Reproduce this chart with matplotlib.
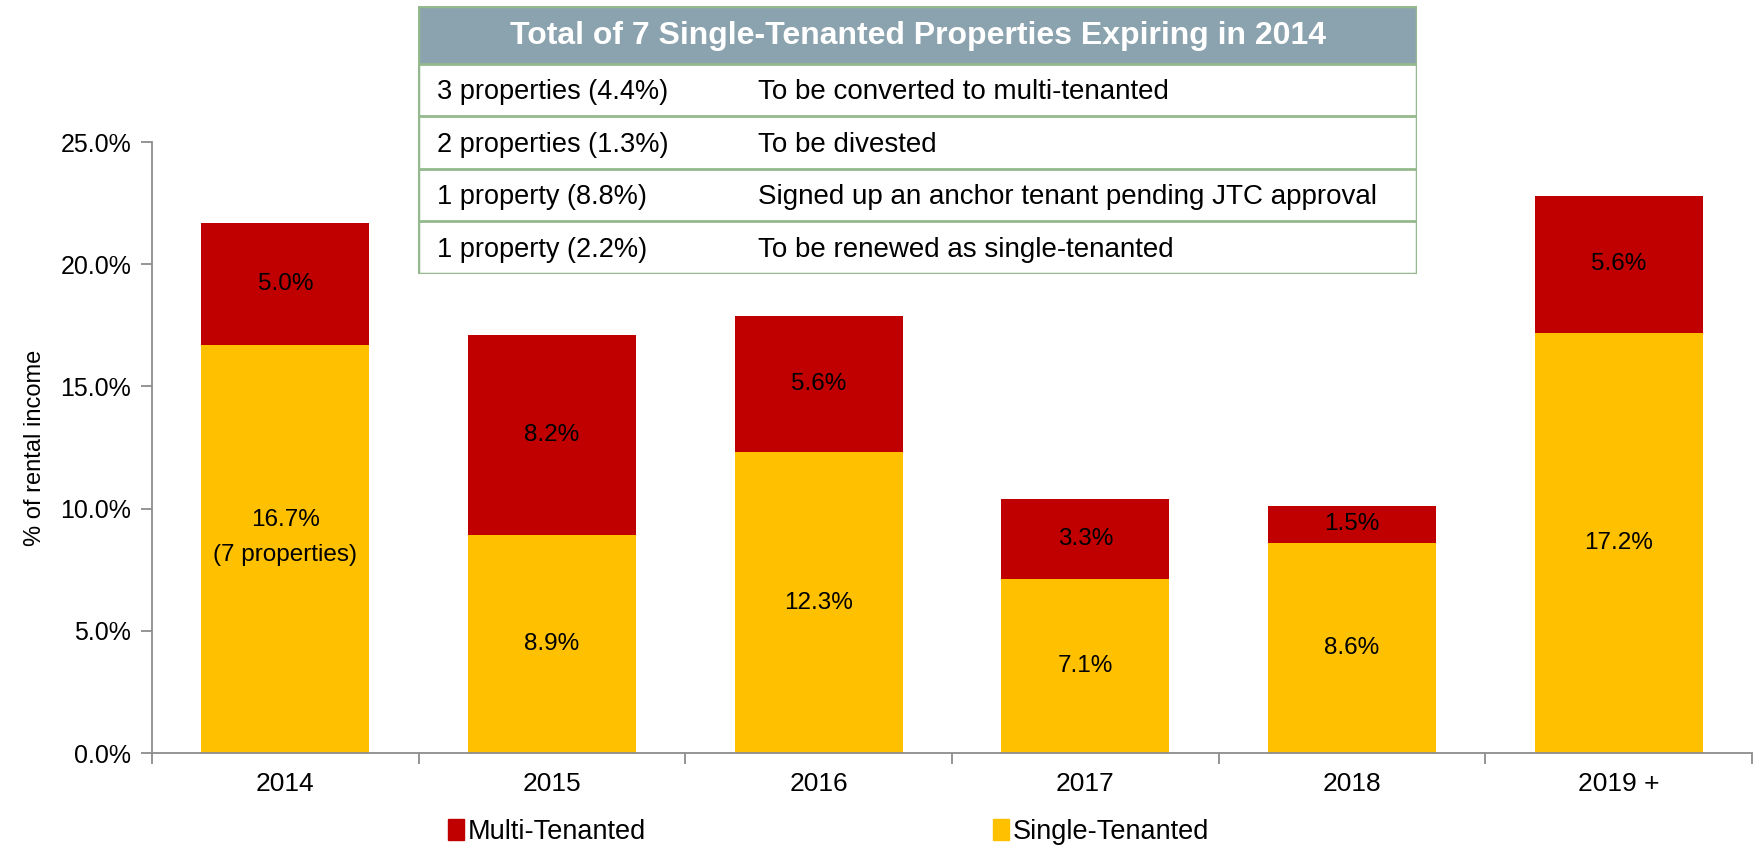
import matplotlib.pyplot as plt
from matplotlib import font_manager
from matplotlib.patches import Rectangle, Patch

years = ['2014', '2015', '2016', '2017', '2018', '2019 +']
single = [16.7, 8.9, 12.3, 7.1, 8.6, 17.2]
multi = [5.0, 8.2, 5.6, 3.3, 1.5, 5.6]
single_labels = ['16.7%\n(7 properties)', '8.9%', '12.3%', '7.1%', '8.6%', '17.2%']
multi_labels = ['5.0%', '8.2%', '5.6%', '3.3%', '1.5%', '5.6%']

table_title = 'Total of 7 Single-Tenanted Properties Expiring in 2014'
table_left = ['3 properties (4.4%)', '2 properties (1.3%)', '1 property (8.8%)', '1 property (2.2%)']
table_right = ['To be converted to multi-tenanted', 'To be divested',
               'Signed up an anchor tenant pending JTC approval', 'To be renewed as single-tenanted']

RED = '#C00000'
YELLOW = '#FFC000'
GRAY = '#8C8C8C'

names = {f.name for f in font_manager.fontManager.ttflist}
plt.rcParams['font.family'] = ['Liberation Sans', 'DejaVu Sans']
narrow = 'Liberation Sans Narrow' if 'Liberation Sans Narrow' in names else 'Liberation Sans'

fig = plt.figure(figsize=(17.56, 8.46), dpi=100)
ax = fig.add_axes([152 / 1756, 1 - 753 / 846, 1600 / 1756, 611 / 846])

x = range(len(years))
ax.bar(x, single, width=0.63, color=YELLOW, zorder=2)
ax.bar(x, multi, width=0.63, bottom=single, color=RED, zorder=2)

for i in x:
    # two-line label sits a little above the segment centre, like the original
    dy = 8 if '\n' in single_labels[i] else 0
    ax.annotate(single_labels[i], (i, single[i] / 2), xytext=(0, dy), textcoords='offset points',
                ha='center', va='center', fontsize=17.5, linespacing=1.75)
    ax.text(i, single[i] + multi[i] / 2, multi_labels[i], ha='center', va='center',
            fontsize=17.5)

ax.set_xlim(-0.5, len(years) - 0.5)
ax.set_ylim(0, 25)
ax.set_yticks([0, 5, 10, 15, 20, 25])
ax.set_yticklabels([f'{v:.1f}%' for v in [0, 5, 10, 15, 20, 25]], fontsize=18)
ax.set_xticks(list(x))
ax.set_xticklabels(years, fontsize=19)
ax.set_xticks([i - 0.5 for i in range(len(years) + 1)], minor=True)
ax.tick_params(axis='x', which='major', length=0, pad=14)
ax.tick_params(axis='x', which='minor', length=8, width=1.3, color=GRAY, direction='out')
ax.tick_params(axis='y', length=8, width=1.3, color=GRAY, direction='out', pad=7)
for s in ['top', 'right']:
    ax.spines[s].set_visible(False)
for s in ['left', 'bottom']:
    ax.spines[s].set_color(GRAY)
    ax.spines[s].set_linewidth(1.3)
ax.set_ylabel('% of rental income', fontsize=17, labelpad=10)

handles = [Patch(color=RED, label='Multi-Tenanted'), Patch(color=YELLOW, label='Single-Tenanted')]
fig.legend(handles=handles, loc='center left', bbox_to_anchor=(434 / 1756, 1 - 832 / 846),
           ncol=2, frameon=False, fontsize=19.5, handlelength=0.6, handleheight=0.8,
           handletextpad=0.15, columnspacing=12.8, borderpad=0)

# table overlay in pixel-like coordinates
tx = fig.add_axes([418 / 1756, 1 - 274 / 846, 999 / 1756, 268 / 846])
tx.set_xlim(0, 999)
tx.set_ylim(268, 0)
tx.axis('off')
GREEN = '#94B98D'
tx.add_patch(Rectangle((0, 0), 999, 58, facecolor='#8BA3AE', edgecolor='none'))
tx.text(500, 30, table_title, ha='center', va='center', color='white',
        fontsize=23, fontweight='bold', family=[narrow, 'DejaVu Sans'])
row_h = 52.5
for r in range(4):
    y0 = 58 + r * row_h
    tx.plot([0, 999], [y0, y0], color=GREEN, lw=2)
    tx.text(19, y0 + row_h / 2 + 2, table_left[r], ha='left', va='center', fontsize=19.5,
            family=[narrow, 'DejaVu Sans'])
    tx.text(340, y0 + row_h / 2 + 2, table_right[r], ha='left', va='center', fontsize=20,
            family=[narrow, 'DejaVu Sans'])
tx.add_patch(Rectangle((0, 0), 999, 268, facecolor='none', edgecolor=GREEN, lw=2.5))

fig.savefig('out.png', dpi=100)
